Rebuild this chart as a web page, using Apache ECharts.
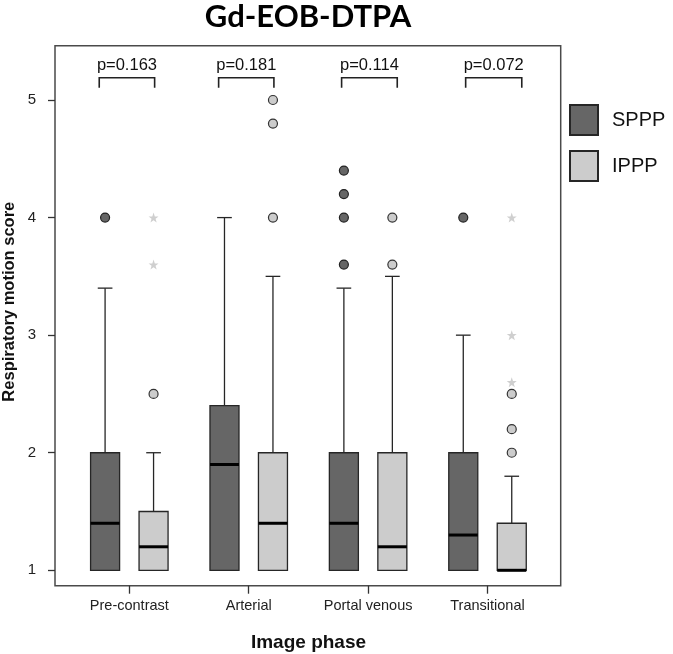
<!DOCTYPE html>
<html>
<head>
<meta charset="utf-8">
<script src="https://cdn.jsdelivr.net/npm/echarts@6/dist/echarts.min.js"></script>
<style>html,body{margin:0;padding:0;background:#fff}#chart{width:673px;height:654px}</style>
</head>
<body>
<div id="chart"></div>
<script>
// ---- data ----
const categories = ['Pre-contrast', 'Arterial', 'Portal venous', 'Transitional'];
// [min, Q1, median, Q3, max]
const spppStats = [[1, 1, 1.4, 2.0, 3.4], [1, 1, 1.9, 2.4, 4.0], [1, 1, 1.4, 2.0, 3.4], [1, 1, 1.3, 2.0, 3.0]];
const ipppStats = [[1, 1, 1.2, 1.5, 2.0], [1, 1, 1.4, 2.0, 3.5], [1, 1, 1.2, 2.0, 3.5], [1, 1, 1.0, 1.4, 1.8]];
// [category index, value]
const spppOutliers = [[0, 4.0], [2, 3.6], [2, 4.0], [2, 4.2], [2, 4.4], [3, 4.0]];
const ipppOutliers = [[0, 2.5], [1, 4.0], [1, 4.8], [1, 5.0], [2, 3.6], [2, 4.0], [3, 2.0], [3, 2.2], [3, 2.5]];
const ipppExtremes = [[0, 3.6], [0, 4.0], [3, 2.6], [3, 3.0], [3, 4.0]];
const pValues = ['p=0.163', 'p=0.181', 'p=0.114', 'p=0.072'];
const bracketLeft = [-0.252, -0.252, -0.222, -0.183];
const bracketRight = [0.212, 0.211, 0.244, 0.287];
const yTicks = [1, 2, 3, 4, 5];
const xTicks = [0, 1, 2, 3];

// ---- style constants ----
const OFFSET = 0.203, BOX_W = 0.243, CAP_W = 0.123;
const DARK = '#666666', LIGHT = '#cccccc', EDGE = '#262626';
const FONT = '"Liberation Sans", Arial, sans-serif';
const starPath = 'path://M50,0 L61.8,35.1 L97.6,34.5 L69,56.2 L79.4,90.5 L50,70 L20.6,90.5 L31,56.2 L2.4,34.5 L38.2,35.1 Z';

function boxSeries(name, stats, offset, fill) {
  return {
    name: name,
    type: 'custom',
    z: 3,
    itemStyle: { color: fill, borderColor: EDGE, borderWidth: 1.3 },
    encode: { x: 0, y: [1, 2, 3, 4, 5] },
    data: stats.map((s, i) => [i].concat(s)),
    renderItem: function (params, api) {
      const x = api.value(0) + offset;
      const mn = api.coord([x, api.value(1)]);
      const q1 = api.coord([x, api.value(2)]);
      const md = api.coord([x, api.value(3)]);
      const q3 = api.coord([x, api.value(4)]);
      const mx = api.coord([x, api.value(5)]);
      const bw = api.size([BOX_W, 0])[0];
      const cw = api.size([CAP_W, 0])[0];
      const lineStyle = { stroke: EDGE, lineWidth: 1.3 };
      return {
        type: 'group',
        children: [
          { type: 'line', shape: { x1: mx[0], y1: mx[1], x2: q3[0], y2: q3[1] }, style: lineStyle },
          { type: 'line', shape: { x1: mx[0] - cw / 2, y1: mx[1], x2: mx[0] + cw / 2, y2: mx[1] }, style: lineStyle },
          { type: 'line', shape: { x1: mn[0], y1: mn[1], x2: q1[0], y2: q1[1] }, style: lineStyle },
          { type: 'rect', shape: { x: q3[0] - bw / 2, y: q3[1], width: bw, height: q1[1] - q3[1] },
            style: { fill: fill, stroke: EDGE, lineWidth: 1.3 } },
          { type: 'line', shape: { x1: md[0] - bw / 2, y1: md[1], x2: md[0] + bw / 2, y2: md[1] },
            style: { stroke: '#000', lineWidth: 3 } }
        ]
      };
    }
  };
}

const chart = echarts.init(document.getElementById('chart'), null, { renderer: 'canvas' });
chart.setOption({
  animation: false,
  backgroundColor: '#fff',
  grid: { left: 55, right: 112.3, top: 45.7, bottom: 68.3, show: true, borderColor: '#4a4a4a', borderWidth: 1.5 },
  xAxis: {
    type: 'value', min: -0.6225, max: 3.613, position: 'bottom',
    splitLine: { show: false },
    axisLine: { show: false, onZero: false },
    axisTick: { show: true, customValues: xTicks, length: 8, lineStyle: { color: '#333', width: 1.3 } },
    axisLabel: { customValues: xTicks, formatter: v => categories[Math.round(v)], margin: 13,
      fontFamily: FONT, fontSize: 14.5, color: '#222' }
  },
  yAxis: {
    type: 'value', min: 0.869, max: 5.462, position: 'left',
    splitLine: { show: false },
    axisLine: { show: false, onZero: false },
    axisTick: { show: true, customValues: yTicks, length: 7, lineStyle: { color: '#333', width: 1.3 } },
    axisLabel: { customValues: yTicks, margin: 19, fontFamily: FONT, fontSize: 15, color: '#222' }
  },
  legend: {
    orient: 'vertical', left: 569, top: 104, padding: 0,
    itemWidth: 28, itemHeight: 30, itemGap: 14,
    data: [{ name: 'SPPP', icon: 'rect' }, { name: 'IPPP', icon: 'rect' }],
    textStyle: { fontFamily: FONT, fontSize: 20, color: '#111', padding: [0, 0, 0, 9] }
  },
  graphic: [
    { type: 'text', x: 308, y: 17, style: { text: 'Gd-EOB-DTPA', align: 'center', verticalAlign: 'middle',
      font: 'bold 31px Lato, "Open Sans", sans-serif', fill: '#000' } },
    { type: 'text', x: 308.5, y: 643, style: { text: 'Image phase', align: 'center', verticalAlign: 'middle',
      font: 'bold 19px "Liberation Sans", Arial, sans-serif', fill: '#111' } },
    { type: 'text', x: 9, y: 301.7, rotation: Math.PI / 2, style: { text: 'Respiratory motion score', align: 'center',
      verticalAlign: 'middle', font: 'bold 16.5px "Liberation Sans", Arial, sans-serif', fill: '#111' } }
  ],
  series: [
    boxSeries('SPPP', spppStats, -OFFSET, DARK),
    boxSeries('IPPP', ipppStats, OFFSET, LIGHT),
    {
      name: 'SPPP', type: 'scatter', z: 4, symbol: 'circle', symbolSize: 9,
      itemStyle: { color: DARK, borderColor: '#222', borderWidth: 1.2, opacity: 1 },
      data: spppOutliers.map(d => [d[0] - OFFSET, d[1]])
    },
    {
      name: 'IPPP', type: 'scatter', z: 4, symbol: 'circle', symbolSize: 9,
      itemStyle: { color: LIGHT, borderColor: '#333', borderWidth: 1.2, opacity: 1 },
      data: ipppOutliers.map(d => [d[0] + OFFSET, d[1]])
    },
    {
      name: 'IPPP', type: 'scatter', z: 4, symbol: starPath, symbolSize: 10,
      itemStyle: { color: '#cfcfcf', opacity: 1 },
      data: ipppExtremes.map(d => [d[0] + OFFSET, d[1]])
    },
    {
      type: 'custom', z: 5, silent: true,
      encode: { x: 0, y: 1 },
      data: pValues.map((p, i) => [i, 5.19]),
      renderItem: function (params, api) {
        const i = params.dataIndex;
        const c = api.value(0);
        const left = api.coord([c + bracketLeft[i], 5.19]);
        const right = api.coord([c + bracketRight[i], 5.19]);
        const legY = api.coord([c, 5.105])[1];
        const textY = api.coord([c, 5.29])[1];
        return {
          type: 'group',
          children: [
            { type: 'polyline', shape: { points: [[left[0], legY], [left[0], left[1]], [right[0], right[1]], [right[0], legY]] },
              style: { stroke: '#222', lineWidth: 1.6, fill: null } },
            { type: 'text', x: (left[0] + right[0]) / 2, y: textY,
              style: { text: pValues[i], align: 'center', verticalAlign: 'middle', font: '16.5px ' + FONT, fill: '#111' } }
          ]
        };
      }
    }
  ]
});
</script>
</body>
</html>
